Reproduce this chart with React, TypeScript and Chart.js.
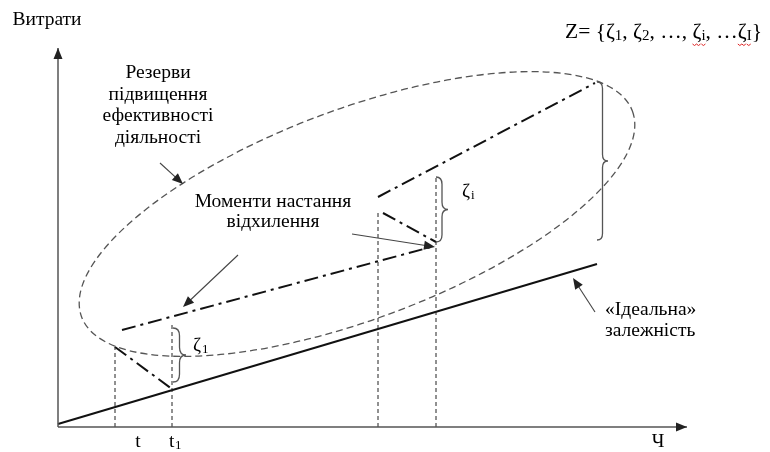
import React, { useEffect, useRef } from "react";
import { Chart, registerables } from "chart.js";

Chart.register(...registerables);

// ---- coordinate frame (data units) ----
const X_MAX = 640;
const Y_MAX = 400;

// ---- lines ----
const xAxisLine = [{ x: 0, y: 0 }, { x: 629, y: 0 }];
const yAxisLine = [{ x: 0, y: 0 }, { x: 0, y: 379 }];
const idealLine = [{ x: 0, y: 3 }, { x: 539, y: 163 }];
const devStart = [{ x: 57, y: 80 }, { x: 114, y: 38 }];
const devLowLong = [{ x: 64, y: 97 }, { x: 377, y: 181 }];
const devUpLong = [{ x: 320, y: 230 }, { x: 537, y: 344 }];
const devMid = [{ x: 325, y: 214 }, { x: 378, y: 185 }];
const markT = [{ x: 57, y: 0 }, { x: 57, y: 80 }];
const markT1 = [{ x: 114, y: 0 }, { x: 114, y: 105 }];
const markTa = [{ x: 320, y: 0 }, { x: 320, y: 215 }];
const markTb = [{ x: 378, y: 0 }, { x: 378, y: 249 }];

// ---- ellipse (centre, semi-axes, tilt in degrees) ----
const ellipseCenter = { x: 299, y: 213 };
const ellipseRadii = { a: 294, b: 105 };
const ellipseTilt = 20.5;

// ---- braces: [x, top, bottom, width] ----
const braceZeta1 = [115, 99, 45, 13];
const braceZetaI = [378, 250, 185, 12];
const braceBig = [539, 345, 187, 11];

// ---- arrows: [fromX, fromY, toX, toY] ----
const arrowReserves = [102, 264, 125, 243];
const arrowMoment1 = [180, 172, 125, 120];
const arrowMoment2 = [294, 193, 377, 180];
const arrowIdeal = [537, 115, 515, 149];
const axisArrowTips = [[0, 379, 0, 1], [629, 0, 1, 0]];

// ---- labels ----
const yTitle = "Витрати";
const xTitle = "Ч";
const reservesLines = ["Резерви", "підвищення", "ефективності", "діяльності"];
const momentLines = ["Моменти настання", "відхилення"];
const idealLines = ["«Ідеальна»", "залежність"];
const tickT = "t";
const tickT1 = ["t", "1"];

const SERIF = "'Liberation Serif', 'Times New Roman', serif";
const FS = 19.5;

function brace(ctx: CanvasRenderingContext2D, x: number, yTop: number, yBot: number, w: number) {
  const yMid = (yTop + yBot) / 2;
  const xm = x + w / 2;
  const r = Math.min(w * 0.6, (yBot - yTop) / 6);
  ctx.beginPath();
  ctx.moveTo(x, yTop);
  ctx.quadraticCurveTo(xm, yTop, xm, yTop + r);
  ctx.lineTo(xm, yMid - r);
  ctx.quadraticCurveTo(xm, yMid, x + w, yMid);
  ctx.quadraticCurveTo(xm, yMid, xm, yMid + r);
  ctx.lineTo(xm, yBot - r);
  ctx.quadraticCurveTo(xm, yBot, x, yBot);
  ctx.stroke();
}

function arrowHead(ctx: CanvasRenderingContext2D, tx: number, ty: number, ux: number, uy: number, len: number, half: number) {
  const px = -uy, py = ux;
  ctx.beginPath();
  ctx.moveTo(tx, ty);
  ctx.lineTo(tx - ux * len + px * half, ty - uy * len + py * half);
  ctx.lineTo(tx - ux * len - px * half, ty - uy * len - py * half);
  ctx.closePath();
  ctx.fill();
}

const drawingPlugin = {
  id: "diagram",
  beforeDatasetsDraw(chart: any) {
    const ctx: CanvasRenderingContext2D = chart.ctx;
    const xs = chart.scales.x, ys = chart.scales.y;
    const cx = xs.getPixelForValue(ellipseCenter.x);
    const cy = ys.getPixelForValue(ellipseCenter.y);
    const rx = xs.getPixelForValue(ellipseCenter.x + ellipseRadii.a) - cx;
    const ry = ys.getPixelForValue(ellipseCenter.y) - ys.getPixelForValue(ellipseCenter.y + ellipseRadii.b);
    ctx.save();
    ctx.strokeStyle = "#555";
    ctx.lineWidth = 1.3;
    ctx.setLineDash([7, 4]);
    ctx.beginPath();
    ctx.ellipse(cx, cy, rx, ry, (-ellipseTilt * Math.PI) / 180, 0, Math.PI * 2);
    ctx.stroke();
    ctx.restore();
  },
  afterDatasetsDraw(chart: any) {
    const ctx: CanvasRenderingContext2D = chart.ctx;
    const xs = chart.scales.x, ys = chart.scales.y;
    const X = (v: number) => xs.getPixelForValue(v);
    const Y = (v: number) => ys.getPixelForValue(v);
    ctx.save();

    // axis arrow heads
    ctx.fillStyle = "#222";
    for (const [ax, ay, ux, uy] of axisArrowTips) {
      arrowHead(ctx, X(ax), Y(ay), ux, -uy, 11, 4.5);
    }

    // braces
    ctx.strokeStyle = "#555";
    ctx.lineWidth = 1.3;
    ctx.setLineDash([]);
    for (const b of [braceZeta1, braceZetaI, braceBig]) {
      brace(ctx, X(b[0]), Y(b[1]), Y(b[2]), X(b[0] + b[3]) - X(b[0]));
    }

    // pointer arrows
    ctx.strokeStyle = "#444";
    ctx.fillStyle = "#222";
    ctx.lineWidth = 1.1;
    for (const a of [arrowReserves, arrowMoment1, arrowMoment2, arrowIdeal]) {
      const x1 = X(a[0]), y1 = Y(a[1]), x2 = X(a[2]), y2 = Y(a[3]);
      const d = Math.hypot(x2 - x1, y2 - y1);
      const ux = (x2 - x1) / d, uy = (y2 - y1) / d;
      ctx.beginPath();
      ctx.moveTo(x1, y1);
      ctx.lineTo(x2 - ux * 8, y2 - uy * 8);
      ctx.stroke();
      arrowHead(ctx, x2, y2, ux, uy, 11, 4.5);
    }

    // texts
    ctx.fillStyle = "#000";
    ctx.textBaseline = "middle";
    ctx.font = `${FS}px ${SERIF}`;
    ctx.textAlign = "center";
    ctx.fillText(yTitle, X(-11), Y(407));
    reservesLines.forEach((s, i) => ctx.fillText(s, X(100), Y(354 - i * 21.5)));
    momentLines.forEach((s, i) => ctx.fillText(s, X(215), Y(225 - i * 20)));
    ctx.textAlign = "left";
    idealLines.forEach((s, i) => ctx.fillText(s, X(547), Y(117 - i * 21)));

    // tick labels
    ctx.textAlign = "center";
    ctx.fillText(tickT, X(80), Y(-15));
    ctx.fillText(xTitle, X(600), Y(-15));
    ctx.textAlign = "left";
    ctx.fillText(tickT1[0], X(111), Y(-15));
    ctx.font = `13px ${SERIF}`;
    ctx.fillText(tickT1[1], X(117), Y(-19));

    // zeta labels
    ctx.font = `${FS}px ${SERIF}`;
    ctx.fillText("ζ", X(135), Y(81));
    ctx.fillText("ζ", X(404), Y(235));
    ctx.font = `13px ${SERIF}`;
    ctx.fillText("1", X(144), Y(77));
    ctx.fillText("i", X(413), Y(231));

    // set formula
    const runs: [string, boolean, boolean][] = [
      ["Z= {ζ", false, false], ["1", true, false], [", ζ", false, false], ["2", true, false],
      [", …, ", false, false], ["ζ", false, true], ["i", true, true], [", …", false, false],
      ["ζ", false, true], ["I", true, true], ["}", false, false],
    ];
    let px = X(507);
    const py = Y(395);
    for (const [t, sub, squig] of runs) {
      ctx.font = sub ? `15px ${SERIF}` : `21.5px ${SERIF}`;
      ctx.fillStyle = "#000";
      ctx.fillText(t, px, sub ? py + 4 : py);
      const w = ctx.measureText(t).width;
      if (squig) {
        ctx.strokeStyle = "#d22";
        ctx.lineWidth = 1;
        ctx.beginPath();
        for (let k = 0; k <= w; k += 2) {
          const yy = py + 12 + (k % 4 === 0 ? 0 : 1.5);
          if (k === 0) ctx.moveTo(px + k, yy); else ctx.lineTo(px + k, yy);
        }
        ctx.stroke();
      }
      px += w;
    }
    ctx.restore();
  },
};

const lineDs = (data: any[], color: string, width: number, dash: number[]) => ({
  data,
  showLine: true,
  borderColor: color,
  borderWidth: width,
  borderDash: dash,
  pointRadius: 0,
  fill: false,
  clip: false,
});

export default function App() {
  const ref = useRef<HTMLCanvasElement | null>(null);
  useEffect(() => {
    if (!ref.current) return;
    const dashDot = [14, 5, 3, 5];
    const chart = new Chart(ref.current, {
      type: "scatter",
      data: {
        datasets: [
          lineDs(xAxisLine, "#555", 1.5, []),
          lineDs(yAxisLine, "#555", 1.5, []),
          lineDs(markT, "#222", 1, [4, 3]),
          lineDs(markT1, "#222", 1, [4, 3]),
          lineDs(markTa, "#222", 1, [4, 3]),
          lineDs(markTb, "#222", 1, [4, 3]),
          lineDs(idealLine, "#111", 2, []),
          lineDs(devStart, "#111", 2, dashDot),
          lineDs(devLowLong, "#111", 2, dashDot),
          lineDs(devUpLong, "#111", 2, dashDot),
          lineDs(devMid, "#111", 2, dashDot),
        ] as any,
      },
      options: {
        animation: false,
        responsive: false,
        events: [],
        layout: { padding: { left: 58, right: 770 - 58 - X_MAX, top: 27, bottom: 25 } },
        scales: {
          x: { type: "linear", min: 0, max: X_MAX, display: false },
          y: { type: "linear", min: 0, max: Y_MAX, display: false },
        },
        plugins: { legend: { display: false }, tooltip: { enabled: false } },
      } as any,
      plugins: [drawingPlugin],
    });
    return () => chart.destroy();
  }, []);
  return (
    <div style={{ position: "fixed", left: 0, top: 0, width: 770, height: 452, background: "#fff" }}>
      <canvas ref={ref} width={770} height={452} />
    </div>
  );
}
